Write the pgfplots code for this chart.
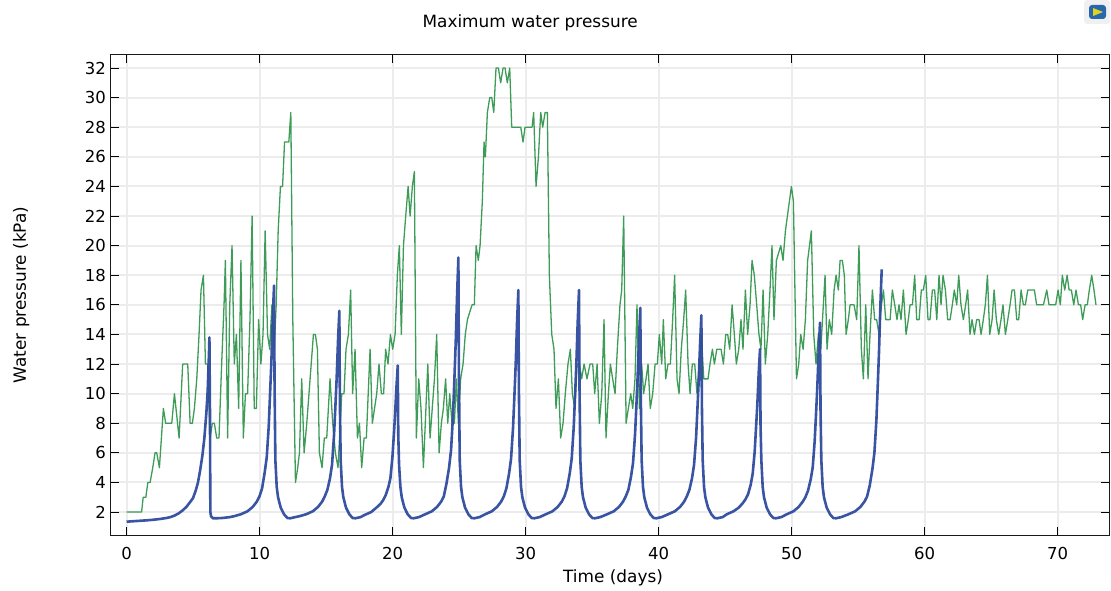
\documentclass[border=0pt]{standalone}
\usepackage{pgfplots}
\usepackage{fontspec}
\setmainfont{DejaVu Sans}
\pgfplotsset{compat=1.18}
\definecolor{grn}{HTML}{3E9C58}
\definecolor{blu}{HTML}{2F4B9F}
\definecolor{gridc}{HTML}{ECECEC}
\begin{document}
\begin{tikzpicture}[x=1pt,y=1pt]
\useasboundingbox (0,0) rectangle (1111,590);
\begin{axis}[
  at={(111pt,55pt)},anchor=south west,
  scale only axis,width=998pt,height=480pt,
  xmin=-1.17,xmax=73.87,ymin=0.45,ymax=32.88,
  xtick={0,10,...,70},ytick={2,4,...,32},
  tick align=inside,tick pos=both,
  major tick length=8pt,
  tick style={black,line width=1pt},
  axis line style={black!90,line width=1pt},
  grid=major,grid style={gridc,line width=2pt},
  tick label style={font=\fontsize{16.5}{18}\selectfont},
  /pgf/number format/assume math mode=true,
  xticklabel style={yshift=-8.5pt},
  yticklabel style={xshift=-1.5pt},
  title={Maximum water pressure},
  title style={at={(0.42,1)},anchor=base,yshift=21pt,font=\fontsize{16.9}{18}\selectfont},
  xlabel={Time (days)},
  xlabel style={at={(0.503,0)},anchor=base,yshift=-47pt,font=\fontsize{16.9}{18}\selectfont},
  ylabel={Water pressure (kPa)},
  ylabel style={at={(0,0.5)},anchor=base,rotate=0,yshift=85pt,xshift=0pt,font=\fontsize{16.9}{18}\selectfont},
]
\addplot[grn,line width=1.3pt,line join=round] coordinates {
(0,2)(1.13,2)(1.25,3)(1.45,3)(1.6,4)(1.77,4)(1.97,5)(2.14,6)(2.27,6)(2.47,5)(2.77,9)(2.94,8)(3.4,8)(3.6,10)(3.95,7)(4.22,12)(4.6,12)(4.78,8)(4.95,8)(5.1,9)(5.28,11)(5.45,14)(5.6,17)(5.78,18)(5.93,12)(6.1,12)(6.28,7)(6.45,8)(6.6,8)(6.78,7)(6.95,7)(7.15,12)(7.33,16)(7.43,19)(7.6,7)(7.76,16)(7.93,20)(8.1,12)(8.26,14)(8.43,9)(8.6,19)(8.78,7)(8.94,10)(9.1,10)(9.28,15)(9.44,22)(9.6,9)(9.76,9)(9.93,15)(10.1,12)(10.26,14)(10.42,21)(10.6,14)(10.76,13)(10.93,16)(11.1,13)(11.25,16)(11.4,21)(11.57,24)(11.73,24)(11.88,27)(12.04,27)(12.2,27)(12.35,29)(12.5,15)(12.7,4)(12.87,5)(13,6)(13.17,11)(13.35,6)(13.55,8)(13.8,11)(14.05,14)(14.2,14)(14.35,13)(14.5,6)(14.7,5)(14.87,7)(15.05,7)(15.3,11)(15.5,8)(15.7,6)(15.9,5)(16.18,10)(16.35,10)(16.5,13)(16.68,14)(16.85,17)(17.0,10)(17.18,13)(17.36,7)(17.51,8)(17.68,5)(17.86,7)(18.03,7)(18.31,13)(18.48,8)(18.81,10)(18.98,12)(19.16,10)(19.33,10)(19.48,13)(19.66,12)(19.84,14)(20.01,13)(20.19,14)(20.36,18)(20.51,20)(20.66,14)(20.82,20)(20.99,22)(21.17,24)(21.32,22)(21.49,24)(21.64,25)(21.79,7)(21.97,11)(22.14,9)(22.32,5)(22.65,12)(22.82,7)(23.15,11)(23.32,14)(23.5,6)(23.67,8)(23.82,9)(23.99,11)(24.15,8)(24.3,10)(24.47,8)(24.65,8)(24.8,11)(24.95,8)(25.12,11)(25.3,12)(25.47,14)(25.63,15)(25.8,15.5)(25.98,16)(26.15,16)(26.28,20)(26.45,19)(26.58,20)(26.75,23)(26.88,27)(26.98,26)(27.13,29)(27.31,30)(27.46,30)(27.61,29)(27.78,32)(27.96,32)(28.13,31)(28.31,32)(28.46,32)(28.63,31)(28.81,32)(28.96,28)(29.13,28)(29.46,28)(29.64,28)(29.81,27)(29.96,28)(30.34,28)(30.49,28)(30.61,29)(30.79,24)(30.97,26)(31.14,29)(31.29,28)(31.47,29)(31.64,29)(31.79,18)(31.97,14)(32.14,13)(32.29,9)(32.47,11)(32.64,7)(32.82,8)(32.99,10)(33.19,12)(33.37,13)(33.52,10)(33.7,9)(33.87,12)(34.05,12)(34.22,11)(34.4,12)(34.62,11)(34.85,12)(35.05,12)(35.2,10)(35.38,12)(35.55,8)(35.73,10)(35.9,15)(36.05,7)(36.23,10)(36.38,12)(36.55,11)(36.73,10)(36.9,13)(37.1,16)(37.23,17)(37.38,22)(37.56,8)(37.73,9)(37.91,10)(38.06,9)(38.23,11)(38.38,16)(38.56,9)(38.73,12)(38.88,10)(39.06,11)(39.21,12)(39.38,9)(39.56,10)(39.74,12)(39.91,12)(40.06,14)(40.24,12)(40.36,15)(40.54,11)(40.71,12)(40.89,12)(41.06,15)(41.21,18)(41.39,11)(41.54,10)(41.71,13)(41.89,15)(42.04,17)(42.22,12)(42.37,10)(42.54,12)(42.72,12)(42.89,10)(43.07,12)(43.22,14)(43.4,11)(43.72,11)(43.87,12)(44.05,13)(44.2,12)(44.38,13)(44.7,13)(44.88,12)(45.05,14)(45.2,14)(45.35,13)(45.53,16)(45.7,14)(45.85,12)(46.03,13)(46.2,15)(46.35,13)(46.53,17)(46.7,14)(46.88,16)(47.03,19)(47.2,18)(47.38,16)(47.55,14)(47.7,13)(47.86,17)(48.03,12)(48.21,14)(48.38,17)(48.53,20)(48.68,15)(48.86,19)(49.19,20)(49.36,19)(49.54,21)(49.84,23)(49.99,24)(50.14,23)(50.37,11)(50.54,12)(50.69,14)(50.87,13)(51.04,15)(51.21,19)(51.49,21)(51.67,14)(51.84,12)(52.02,14)(52.2,13)(52.52,18)(52.67,13)(52.84,15)(53.02,14)(53.2,17)(53.35,18)(53.52,17)(53.65,19)(53.82,19)(53.97,18)(54.1,14)(54.27,15)(54.4,16)(54.7,16)(54.9,15)(55.07,20)(55.25,13)(55.4,11)(55.58,16)(55.75,11)(55.9,14)(56.08,17)(56.25,15)(56.4,15)(56.58,14)(56.76,16)(56.91,17)(57.08,15)(57.41,15)(57.58,17)(57.76,16)(57.93,15)(58.08,16)(58.23,15)(58.41,17)(58.61,14)(58.78,15)(58.91,16)(59.09,16)(59.26,18)(59.41,15)(59.59,15)(59.76,17)(59.91,17)(60.09,18)(60.26,15)(60.41,15)(60.59,17)(60.76,17)(60.92,15)(61.09,18)(61.24,16)(61.39,18)(61.57,17)(61.74,15)(61.92,15)(62.09,16)(62.24,17)(62.42,16)(62.57,18)(62.74,16)(62.92,15)(63.09,16)(63.24,17)(63.42,14)(63.57,15)(63.75,14)(63.92,15)(64.1,15)(64.25,14)(64.42,15)(64.57,16)(64.73,18)(64.9,14)(65.08,15)(65.23,17)(65.4,15)(65.58,14)(65.75,15)(65.9,16)(66.08,14)(66.26,15)(66.43,16)(66.58,17)(66.76,17)(66.93,15)(67.08,15)(67.26,17)(67.43,16)(67.58,16)(67.76,17)(68.08,17)(68.26,17)(68.43,16)(68.94,16)(69.19,17)(69.36,16)(69.86,16)(70.04,17)(70.21,16)(70.36,18)(70.54,17)(70.72,18)(70.87,17)(71.04,17)(71.22,16)(71.39,17)(71.57,16)(71.74,16)(71.89,15)(72.07,16)(72.24,16)(72.39,17)(72.57,18)(72.74,17)(72.89,16)
};
\addplot[blu,line width=2.6pt,line join=round,opacity=0.95] coordinates {
(0,1.35)(0.5,1.38)(1,1.41)(1.5,1.44)(2,1.48)(2.5,1.53)(3,1.6)(3.3,1.66)(3.6,1.76)(3.9,1.9)(4.2,2.1)(4.5,2.35)(4.8,2.7)(5.0,2.95)(5.2,3.45)(5.37,4)(5.53,4.8)(5.7,5.8)(5.85,7)(6.0,8.7)(6.1,10.2)(6.2,12.8)(6.23,13.8)(6.27,9)(6.3,2.0)(6.35,1.72)(6.5,1.58)(6.8,1.58)(7.2,1.6)(7.7,1.65)
(8.09,1.72)(8.59,1.85)(9.09,2.05)(9.49,2.35)(9.79,2.7)(9.99,3.05)(10.19,3.6)(10.39,4.7)(10.54,5.7)(10.69,7.8)(10.79,10)(10.89,12.2)(10.99,15.1)(11.09,17.3)
(11.13,10.4)(11.19,5.5)(11.29,3.7)(11.39,3)(11.59,2.3)(11.84,1.85)(12.09,1.6)(12.29,1.58)(12.69,1.66)
(13,1.72)(13.5,1.85)(14,2.05)(14.4,2.35)(14.7,2.7)(14.9,3.05)(15.1,3.5)(15.3,4.3)(15.45,5.2)(15.6,7.2)(15.7,9.1)(15.8,11.1)(15.9,13.6)(16,15.6)
(16.04,9.4)(16.1,5.5)(16.2,3.7)(16.3,3)(16.5,2.3)(16.75,1.85)(17,1.6)(17.2,1.58)(17.6,1.66)
(17.89,1.8)(18.39,2)(18.79,2.3)(19.09,2.55)(19.29,2.8)(19.49,3.15)(19.69,3.7)(19.84,4.3)(19.99,5.7)(20.09,7.1)(20.19,8.6)(20.29,10.4)(20.39,11.9)
(20.43,7.2)(20.49,5.2)(20.59,3.7)(20.69,3)(20.89,2.3)(21.14,1.85)(21.39,1.6)(21.59,1.58)(21.99,1.66)
(22.45,1.85)(22.95,2.05)(23.35,2.35)(23.65,2.7)(23.85,3.05)(24.05,3.9)(24.25,5)(24.4,6.2)(24.55,8.6)(24.65,11)(24.75,13.5)(24.85,16.6)(24.95,19.2)
(24.99,11.5)(25.05,5.5)(25.15,3.7)(25.25,3)(25.45,2.3)(25.7,1.85)(25.95,1.6)(26.15,1.58)(26.55,1.66)
(26.96,1.85)(27.46,2.05)(27.86,2.35)(28.16,2.7)(28.36,3.05)(28.56,3.6)(28.76,4.6)(28.91,5.6)(29.06,7.7)(29.16,9.8)(29.26,12)(29.36,14.8)(29.46,17)
(29.5,10.2)(29.56,5.5)(29.66,3.7)(29.76,3)(29.96,2.3)(30.21,1.85)(30.46,1.6)(30.66,1.58)(31.06,1.66)
(31.52,1.85)(32.02,2.05)(32.42,2.35)(32.72,2.7)(32.92,3.05)(33.12,3.6)(33.32,4.6)(33.47,5.6)(33.62,7.7)(33.72,9.8)(33.82,12)(33.92,14.8)(34.02,17)
(34.06,10.2)(34.12,5.5)(34.22,3.7)(34.32,3)(34.52,2.3)(34.77,1.85)(35.02,1.6)(35.22,1.58)(35.62,1.66)
(36.13,1.85)(36.63,2.05)(37.03,2.35)(37.33,2.7)(37.53,3.05)(37.73,3.5)(37.93,4.4)(38.08,5.3)(38.23,7.2)(38.33,9.1)(38.43,11.2)(38.53,13.7)(38.63,15.8)
(38.67,9.5)(38.73,5.5)(38.83,3.7)(38.93,3)(39.13,2.3)(39.38,1.85)(39.63,1.6)(39.83,1.58)(40.23,1.66)
(40.72,1.85)(41.22,2.05)(41.62,2.35)(41.92,2.7)(42.12,3.05)(42.32,3.5)(42.52,4.3)(42.67,5.2)(42.82,7)(42.92,8.9)(43.02,10.9)(43.12,13.3)(43.22,15.3)
(43.26,9.2)(43.32,5.5)(43.42,3.7)(43.52,3)(43.72,2.3)(43.97,1.85)(44.22,1.6)(44.42,1.58)(44.82,1.66)
(45.13,1.85)(45.63,2.05)(46.03,2.3)(46.33,2.6)(46.53,2.85)(46.73,3.2)(46.93,3.85)(47.08,4.6)(47.23,6.1)(47.33,7.7)(47.43,9.3)(47.53,11.4)(47.63,13)
(47.67,7.8)(47.73,5.5)(47.83,3.7)(47.93,3)(48.13,2.3)(48.38,1.85)(48.63,1.6)(48.83,1.58)(49.23,1.66)
(49.64,1.85)(50.14,2.05)(50.54,2.35)(50.84,2.7)(51.04,3)(51.24,3.45)(51.44,4.2)(51.59,5)(51.74,6.8)(51.84,8.6)(51.94,10.5)(52.04,12.9)(52.14,14.8)
(52.18,8.9)(52.24,5.5)(52.34,3.7)(52.44,3)(52.64,2.3)(52.89,1.85)(53.14,1.6)(53.34,1.58)(53.74,1.66)
(54.28,1.85)(54.78,2.05)(55.18,2.35)(55.48,2.7)(55.68,3.05)(55.88,3.8)(56.08,4.9)(56.23,6)(56.38,8.2)(56.48,10.5)(56.58,12.9)(56.68,16)(56.78,18.4)
};
\end{axis}
% small logo at top right
\fill[black!6,rounded corners=3pt] (1084,566) rectangle (1110,590);
\fill[blu!85!cyan,rounded corners=3pt] (1089,571) rectangle (1106,585);
\fill[yellow!85!black] (1093,574) -- (1093,582) -- (1103,578) -- cycle;
\end{tikzpicture}
\end{document}
